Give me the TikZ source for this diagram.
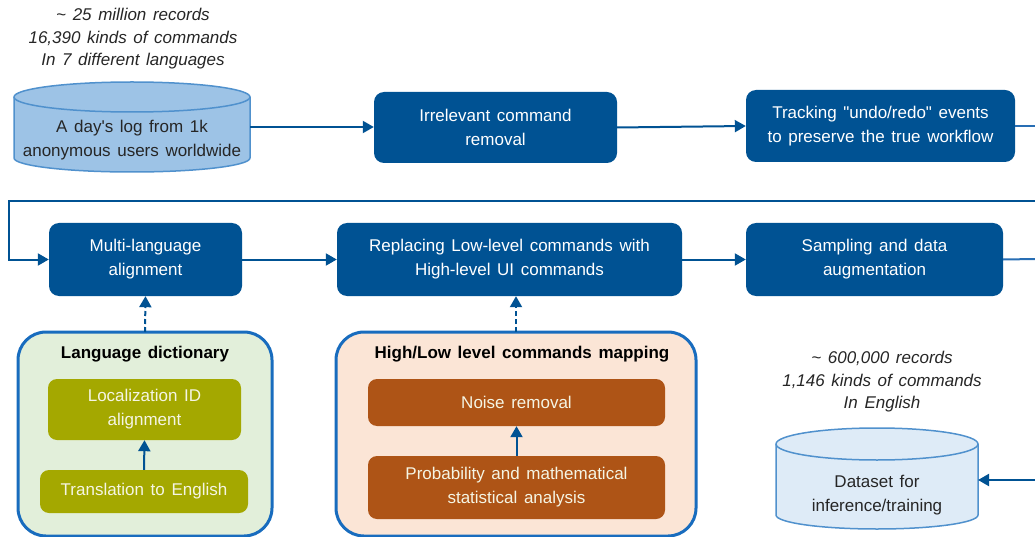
\documentclass[tikz,border=0pt]{standalone}
\usepackage{fontspec}
\setmainfont[WordSpace=1.4, Ligatures=TeXOff]{Liberation Sans}
\usetikzlibrary{arrows.meta}
\definecolor{dblue}{RGB}{0,82,147}
\definecolor{cblue}{RGB}{24,108,190}
\definecolor{lineblue}{RGB}{40,110,180}
\definecolor{cylA}{RGB}{157,195,230}
\definecolor{cylB}{RGB}{222,235,247}
\definecolor{cylline}{RGB}{80,145,205}
\definecolor{lgreen}{RGB}{226,239,218}
\definecolor{olive}{RGB}{164,168,0}
\definecolor{peach}{RGB}{251,229,214}
\definecolor{brown}{RGB}{174,84,22}
\definecolor{dtext}{RGB}{38,38,38}
\definecolor{ltext}{RGB}{245,245,228}
\begin{document}
\begin{tikzpicture}[x=1pt,y=-1pt,
  txt/.style={font=\fontsize{17}{24}\selectfont, align=center, inner sep=0pt},
  itxt/.style={txt, font=\fontsize{17}{22.5}\selectfont\itshape, text=dtext},
  bluebox/.style={txt, rounded corners=10pt, fill=dblue, text=white},
  olivebox/.style={txt, rounded corners=9pt, fill=olive, text=ltext},
  brownbox/.style={txt, rounded corners=9pt, fill=brown, text=ltext},
  container/.style={draw=cblue, line width=3pt, rounded corners=28pt},
  arr/.style={draw=dblue, line width=2pt, -{Triangle[length=11pt,width=12pt]}},
  plain/.style={draw=lineblue, line width=2pt},
  dasharr/.style={arr, dash pattern=on 5pt off 3pt},
  cyl/.style={draw=cylline, line width=1.5pt}
]
\useasboundingbox (0,0) rectangle (1035,537);
\clip (0,0) rectangle (1035,537);

% top annotation
\node[itxt] (ann1) at (133,39) {\symbol{126} 25 million records\\16,390 kinds of commands\\In 7 different languages};

% cylinder 1
\path[cyl, fill=cylA] (14,97) -- (14,158) arc[start angle=180,end angle=360,x radius=118pt,y radius=14pt]
  -- (250,97) arc[start angle=0,end angle=180,x radius=118pt,y radius=15pt] -- cycle;
\draw[cyl] (250,97) arc[start angle=0,end angle=-180,x radius=118pt,y radius=15pt];
\node[txt, text=dtext] (log) at (132,140) {A day\symbol{39}s log from 1k\\anonymous users worldwide};
\coordinate (logE) at (250,127);

% top row boxes
\node[bluebox, minimum width=243pt, minimum height=71pt] (irr) at (495.5,127.5) {Irrelevant command\\removal};
\node[bluebox, minimum width=269pt, minimum height=72pt] (trk) at (880.5,126) {Tracking \symbol{34}undo/redo\symbol{34} events\\to preserve the true workflow};
\coordinate (e1) at (1036,126);
\coordinate (e2) at (1036,201);
\coordinate (lc) at (9,201);

% second row
\node[bluebox, minimum width=193pt, minimum height=73pt] (ml) at (145.5,259.5) {Multi-language\\alignment};
\node[bluebox, minimum width=345pt, minimum height=73pt] (rep) at (509.5,259.5) {Replacing Low-level commands with\\High-level UI commands};
\node[bluebox, minimum width=257pt, minimum height=73pt] (smp) at (874.5,259.5) {Sampling and data\\augmentation};
\coordinate (e3) at (1036,259);

% containers
\draw[container, fill=lgreen] (18,332) rectangle (272,536);
\coordinate (ldT) at (145,332);
\node[txt, font=\fontsize{17}{24}\selectfont\bfseries, text=black] (ldtitle) at (145,354) {Language dictionary};
\node[olivebox, minimum width=193pt, minimum height=61pt] (loc) at (144.5,409.5) {Localization ID\\alignment};
\node[olivebox, minimum width=208pt, minimum height=43pt] (trn) at (144,491.5) {Translation to English};

\draw[container, fill=peach] (336,332) rectangle (696,536);
\coordinate (hlT) at (516,332);
\node[txt, font=\fontsize{17}{24}\selectfont\bfseries, text=black] (hltitle) at (522,354) {High/Low level commands mapping};
\node[brownbox, minimum width=297pt, minimum height=47pt] (noise) at (516.5,402.5) {Noise removal};
\node[brownbox, minimum width=297pt, minimum height=63pt] (prob) at (516.5,487.5) {Probability and mathematical\\statistical analysis};

% bottom right annotation and cylinder 2
\node[itxt] (ann2) at (882,382) {\symbol{126} 600,000 records\\1,146 kinds of commands\\In English};
\path[cyl, fill=cylB] (776,444) -- (776,515) arc[start angle=180,end angle=360,x radius=101pt,y radius=14pt]
  -- (978,444) arc[start angle=0,end angle=180,x radius=101pt,y radius=16pt] -- cycle;
\draw[cyl] (978,444) arc[start angle=0,end angle=-180,x radius=101pt,y radius=16pt];
\node[txt, text=dtext] (ds) at (877,495.5) {Dataset for\\inference/training};
\coordinate (dsE) at (978,480);
\coordinate (e4) at (1036,480);

% connectors
\draw[arr] (logE) -- (irr.west |- logE);
\draw[arr] (irr.east) -- (trk.west);
\draw[plain] (trk.east) -- (e1);
\draw[arr] (e2) -- (lc) |- (ml.west);
\draw[arr] (ml.east) -- (rep.west);
\draw[arr] (rep.east) -- (smp.west);
\draw[plain] (smp.east) -- (e3);
\draw[dasharr] (ldT) -- (ml.south);
\draw[dasharr] (hlT) -- (rep.south -| hlT);
\draw[arr] (trn.north) -- (loc.south);
\draw[arr] (prob.north) -- (noise.south);
\draw[arr] (e4) -- (dsE);
\end{tikzpicture}
\end{document}
